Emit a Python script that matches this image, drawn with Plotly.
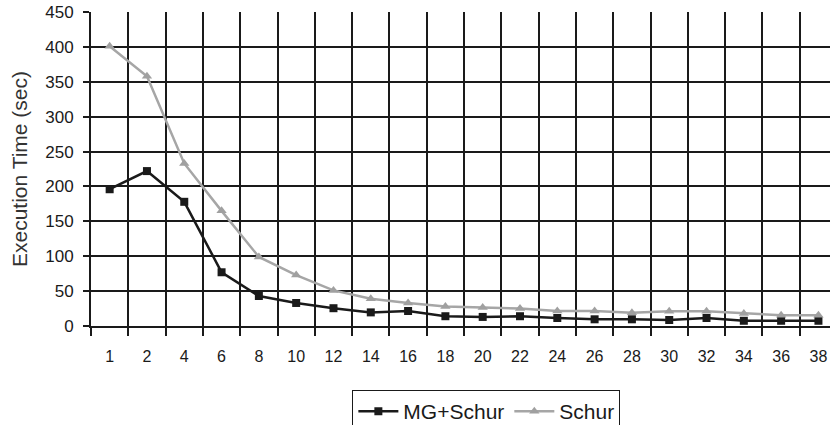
import plotly.graph_objects as go

categories = ["1", "2", "4", "6", "8", "10", "12", "14", "16", "18", "20",
              "22", "24", "26", "28", "30", "32", "34", "36", "38"]
mg_schur = [196, 222, 178, 77, 43, 33, 25.5, 19.5, 21.5, 14, 13,
            14, 11.5, 9.6, 9.6, 8.6, 11.5, 7.5, 7.5, 7.5]
schur = [401, 358, 233, 165, 99, 73, 51, 39, 33, 28, 26.4,
         25, 21.5, 21.5, 19, 21, 21, 17.8, 15.4, 15.4]
y_ticks = [0, 50, 100, 150, 200, 250, 300, 350, 400, 450]

fig = go.Figure()
fig.add_trace(go.Scatter(
    x=categories, y=mg_schur, name="MG+Schur", mode="lines+markers",
    line=dict(color="#1a1a1a", width=2.5),
    marker=dict(symbol="square", size=8, color="#1a1a1a"),
))
fig.add_trace(go.Scatter(
    x=categories, y=schur, name="Schur", mode="lines+markers",
    line=dict(color="#a6a6a6", width=2.5),
    marker=dict(symbol="triangle-up", size=9, color="#a0a0a0"),
))

fig.update_layout(
    width=830, height=425,
    margin=dict(l=91, r=0, t=12, b=99, autoexpand=False),
    paper_bgcolor="white", plot_bgcolor="white",
    font=dict(family="Liberation Sans, Arial, sans-serif", size=16, color="#1a1a1a"),
    showlegend=True,
    legend=dict(
        orientation="h", x=0.535, xanchor="center", y=-0.204, yanchor="top",
        bordercolor="#1a1a1a", borderwidth=1, font=dict(size=21),
        bgcolor="white", itemwidth=40,
    ),
    xaxis=dict(
        type="category", range=[-0.5, 19.31],
        tickson="boundaries", ticks="outside", ticklen=8, tickwidth=1.5,
        tickcolor="#1a1a1a",
        showgrid=True, gridcolor="#1a1a1a", gridwidth=1.8,
        showline=True, linecolor="#1a1a1a", linewidth=2,
        tickfont=dict(size=16), ticklabelstandoff=15,
    ),
    yaxis=dict(
        range=[0, 450], tickvals=y_ticks,
        ticks="outside", ticklen=6, tickwidth=1.5, tickcolor="#1a1a1a",
        showgrid=True, gridcolor="#1a1a1a", gridwidth=1.8,
        showline=True, linecolor="#1a1a1a", linewidth=2,
        zeroline=False,
        tickfont=dict(size=17), ticklabelstandoff=6,
        title=dict(text="Execution Time (sec)", font=dict(size=21, color="#333333"), standoff=12),
    ),
)

fig.write_html(
    "out.html",
    config={"displayModeBar": False},
    post_script="document.body.style.margin='0';document.body.style.overflow='hidden';",
)
